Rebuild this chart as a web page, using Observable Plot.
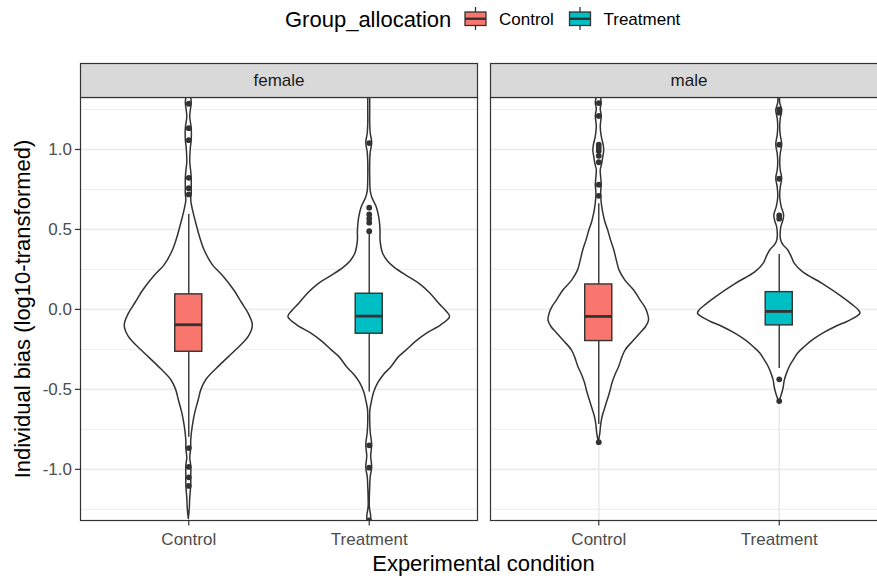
<!DOCTYPE html>
<html>
<head>
<meta charset="utf-8">
<script src="https://cdn.jsdelivr.net/npm/d3@7"></script>
<script src="https://cdn.jsdelivr.net/npm/@observablehq/plot@0.6"></script>
<style>
  html, body { margin: 0; padding: 0; background: #fff; overflow: hidden; }
  body { font-family: "Liberation Sans", Arial, sans-serif; }
  #wrap { position: relative; width: 877px; height: 578px; overflow: hidden; background: #fff; }
  #legend { position: absolute; left: 0; top: 0; }
  #chart { position: absolute; left: 0; top: 44px; width: 890px; }
  #chart svg { max-width: none !important; }
  #caption { position: absolute; left: 0; top: 548px; }
</style>
</head>
<body>
<div id="wrap">
  <svg id="legend" width="877" height="44"></svg>
  <div id="chart"></div>
  <svg id="caption" width="877" height="30"></svg>
</div>
<script>
// ---------------- data ----------------
const sexes = ["female", "male"];
const groups = ["Control", "Treatment"];
const groupColors = ["#F8766D", "#00BFC4"];
const legendTitle = "Group_allocation";
const xTitle = "Experimental condition";
const yTitle = "Individual bias (log10-transformed)";
const majorTicks = [-1, -0.5, 0, 0.5, 1];
const minorTicks = [-1.25, -0.75, -0.25, 0.25, 0.75, 1.25];

// violin outlines: y value and relative density (half-width)
const femaleControlY = [1.34,1.29,1.24,1.20,1.13,1.06,1.00,0.92,0.86,0.82,0.76,0.72,0.68,0.60,0.54,0.45,0.37,0.28,0.20,0.12,0.04,-0.03,-0.10,-0.17,-0.256,-0.35,-0.44,-0.50,-0.57,-0.65,-0.735,-0.82,-0.87,-0.93,-0.98,-1.05,-1.10,-1.18,-1.25,-1.31];
const femaleControlDensity = [2,3,2,1.5,3,3,2,1.5,2.5,3,3,3,2.5,5,7.5,11.5,16,24,36,46,54,61,65,61,48,32,18,13,10,6.5,4,2.5,2.5,1.5,2.5,2.5,2.5,1.5,1,0];

const femaleTreatmentY = [1.34,1.25,1.16,1.10,1.04,0.98,0.92,0.82,0.74,0.70,0.64,0.58,0.535,0.48,0.43,0.35,0.30,0.26,0.21,0.16,0.10,0.035,-0.01,-0.048,-0.10,-0.15,-0.20,-0.256,-0.30,-0.36,-0.41,-0.46,-0.52,-0.57,-0.63,-0.70,-0.77,-0.85,-0.92,-0.99,-1.05,-1.11,-1.235,-1.30,-1.34];
const femaleTreatmentDensity = [1,1,1,1.5,3,1.5,1,1,1.5,3,7.5,10,11,11.5,11.5,14,19,26,38,51,62,71,78,82,73,59,48,38,30,22.7,15,9.3,5,3,1.2,1,1.5,3,2,3,1.5,1,0.6,2,1];

const maleControlY = [1.34,1.29,1.25,1.21,1.14,1.08,1.025,0.99,0.95,0.91,0.87,0.82,0.775,0.74,0.70,0.62,0.55,0.49,0.43,0.37,0.30,0.244,0.18,0.12,0.06,0.014,-0.03,-0.07,-0.11,-0.15,-0.20,-0.256,-0.30,-0.36,-0.41,-0.46,-0.52,-0.57,-0.62,-0.67,-0.72,-0.78,-0.83];
const maleControlDensity = [1.5,3,2,3,2,3,5,5.5,4.5,3.5,2,2.5,3,2.5,2.5,4,6.5,9.7,12.5,15.7,18.5,21,27,35.7,42,47,50,51,48,42.3,35,27.3,24,20.7,17,14,11.5,9,6.5,4,2.5,1.5,0];

const maleTreatmentY = [1.34,1.29,1.244,1.19,1.14,1.09,1.03,0.97,0.92,0.87,0.817,0.76,0.70,0.64,0.5875,0.55,0.51,0.43,0.40,0.37,0.33,0.286,0.233,0.16,0.077,0.03,-0.006,-0.027,-0.07,-0.11,-0.15,-0.194,-0.235,-0.277,-0.32,-0.36,-0.40,-0.444,-0.49,-0.527,-0.555,-0.58];
const maleTreatmentDensity = [1,1,3,1.5,1,1.5,3,1.5,1,1.5,3,1.5,1,2.5,5,4,2,2,4.5,9,12.5,15.7,24,44,64,74,80.7,82.4,72,57.4,45,34,26,19,14.5,10.7,8,5.7,4.5,3,1.5,0];

// box statistics (order: female Control, female Treatment, male Control, male Treatment)
const boxSex = ["female", "female", "male", "male"];
const boxGroup = ["Control", "Treatment", "Control", "Treatment"];
const boxLow = [-0.80, -0.517, -0.72, -0.37];
const boxQ1 = [-0.265, -0.152, -0.198, -0.10];
const boxMedian = [-0.096, -0.042, -0.044, -0.0125];
const boxQ3 = [0.094, 0.098, 0.156, 0.108];
const boxHigh = [0.594, 0.475, 0.66, 0.344];

// outliers
const femaleControlOutliers = [1.286, 1.133, 1.058, 0.823, 0.758, 0.719, -0.867, -0.985, -1.05, -1.104];
const femaleTreatmentOutliers = [1.04, 0.636, 0.594, 0.567, 0.542, 0.489, -0.85, -0.99, -1.32];
const maleControlOutliers = [1.29, 1.21, 1.03, 1.01, 0.99, 0.96, 0.92, 0.78, 0.71, -0.83];
const maleTreatmentOutliers = [1.25, 1.23, 1.03, 0.817, 0.5875, 0.567, -0.4375, -0.573];

// ---------------- build tables ----------------
const pos = g => groups.indexOf(g) + 1;
const violins = [];
function addViolin(sex, group, ys, ds) {
  ys.forEach((y, i) => violins.push({sex, group, y, d: ds[i]}));
}
addViolin("female", "Control", femaleControlY, femaleControlDensity);
addViolin("female", "Treatment", femaleTreatmentY, femaleTreatmentDensity);
addViolin("male", "Control", maleControlY, maleControlDensity);
addViolin("male", "Treatment", maleTreatmentY, maleTreatmentDensity);
const maxD = d3.max(violins, v => v.d);
const violinWidth = 0.9;
const boxWidth = 0.15;

const boxes = boxSex.map((sex, i) => ({
  sex, group: boxGroup[i], low: boxLow[i], q1: boxQ1[i], median: boxMedian[i], q3: boxQ3[i], high: boxHigh[i]
}));

const outliers = [];
function addOut(sex, group, arr) { arr.forEach(y => outliers.push({sex, group, y})); }
addOut("female", "Control", femaleControlOutliers);
addOut("female", "Treatment", femaleTreatmentOutliers);
addOut("male", "Control", maleControlOutliers);
addOut("male", "Treatment", maleTreatmentOutliers);

// ---------------- layout ----------------
const W = 890, H = 510, mL = 80, mR = 3, mT = 53, mB = 34;
const panelH = H - mT - mB;
const stripH = 34;
const gap = 13;
const panelW = (W - mL - mR - gap) / 2;
const ink = "#333333";

const chart = Plot.plot({
  width: W, height: H,
  marginLeft: mL, marginRight: mR, marginTop: mT, marginBottom: mB,
  style: {fontFamily: '"Liberation Sans", Arial, sans-serif', fontSize: "17px", background: "#fff", overflow: "visible", maxWidth: "none"},
  fx: {domain: sexes, paddingInner: gap / (panelW + gap), paddingOuter: 0, axis: null, label: null},
  x: {domain: [0.4, 2.6], axis: null},
  y: {domain: [-1.32, 1.325], axis: null},
  color: {domain: groups, range: groupColors},
  marks: [
    Plot.ruleY(minorTicks, {stroke: "#EBEBEB", strokeWidth: 0.9}),
    Plot.ruleY(majorTicks, {stroke: "#EBEBEB", strokeWidth: 1.7}),
    Plot.ruleX([1, 2], {stroke: "#EBEBEB", strokeWidth: 1.7}),
    Plot.areaX(violins, {
      fx: "sex", z: "group", y: "y",
      x1: d => pos(d.group) - violinWidth / 2 * d.d / maxD,
      x2: d => pos(d.group) + violinWidth / 2 * d.d / maxD,
      fill: "white", stroke: ink, strokeWidth: 1.5, curve: "catmull-rom", clip: true
    }),
    Plot.ruleX(boxes, {fx: "sex", x: d => pos(d.group), y1: "low", y2: "q1", stroke: ink, strokeWidth: 1.4}),
    Plot.ruleX(boxes, {fx: "sex", x: d => pos(d.group), y1: "q3", y2: "high", stroke: ink, strokeWidth: 1.4}),
    Plot.rect(boxes, {
      fx: "sex",
      x1: d => pos(d.group) - boxWidth / 2, x2: d => pos(d.group) + boxWidth / 2,
      y1: "q1", y2: "q3", fill: "group", stroke: ink, strokeWidth: 1.4
    }),
    Plot.ruleY(boxes, {
      fx: "sex", y: "median",
      x1: d => pos(d.group) - boxWidth / 2, x2: d => pos(d.group) + boxWidth / 2,
      stroke: ink, strokeWidth: 2.8
    }),
    Plot.dot(outliers, {fx: "sex", x: d => pos(d.group), y: "y", r: 2.9, fill: ink, stroke: "none", clip: true}),
    Plot.frame({stroke: ink, strokeWidth: 1.2}),
    Plot.frame({fill: "#D9D9D9", stroke: ink, strokeWidth: 1.2, insetTop: -stripH, insetBottom: panelH}),
    Plot.text(sexes, {fx: d => d, text: d => d, frameAnchor: "top", lineAnchor: "middle", dy: -stripH / 2, fill: "#1A1A1A", fontSize: 17}),
    Plot.text([yTitle], {fx: () => "female", text: d => d, frameAnchor: "left", textAnchor: "middle", rotate: -90, dx: -58, fill: "#000", fontSize: 22}),
    Plot.axisY({ticks: majorTicks, tickFormat: d => d.toFixed(1), tickSize: 5, tickPadding: 3.5, fontSize: 17, stroke: ink, fill: "#4D4D4D", strokeWidth: 1.2, label: null}),
    Plot.axisX({ticks: [1, 2], tickFormat: d => groups[d - 1], tickSize: 5.5, tickPadding: 6.5, fontSize: 17, stroke: ink, fill: "#4D4D4D", strokeWidth: 1.2, label: null})
  ]
});
document.getElementById("chart").appendChild(chart);

// ---------------- legend ----------------
const lg = d3.select("#legend");
lg.append("text").attr("x", 285).attr("y", 27.3).attr("font-size", 22).attr("fill", "#000")
  .attr("font-family", '"Liberation Sans", Arial, sans-serif').text(legendTitle);
const keyX = [465, 569.5];
groups.forEach((g, i) => {
  const x0 = keyX[i], cx = x0 + 10.5;
  const k = lg.append("g");
  k.append("line").attr("x1", cx).attr("x2", cx).attr("y1", 7).attr("y2", 30).attr("stroke", ink).attr("stroke-width", 1.3);
  k.append("rect").attr("x", x0).attr("y", 12).attr("width", 21).attr("height", 13.5)
    .attr("fill", groupColors[i]).attr("stroke", ink).attr("stroke-width", 1.3);
  k.append("line").attr("x1", x0).attr("x2", x0 + 21).attr("y1", 18.75).attr("y2", 18.75).attr("stroke", ink).attr("stroke-width", 2.4);
  lg.append("text").attr("x", x0 + 34).attr("y", 25).attr("font-size", 17).attr("fill", "#000")
    .attr("font-family", '"Liberation Sans", Arial, sans-serif').text(g);
});

// ---------------- caption (x title) ----------------
d3.select("#caption").append("text").attr("x", mL + (W - mL - mR) / 2).attr("y", 23).attr("text-anchor", "middle")
  .attr("font-size", 22).attr("fill", "#000").attr("font-family", '"Liberation Sans", Arial, sans-serif').text(xTitle);
</script>
</body>
</html>
